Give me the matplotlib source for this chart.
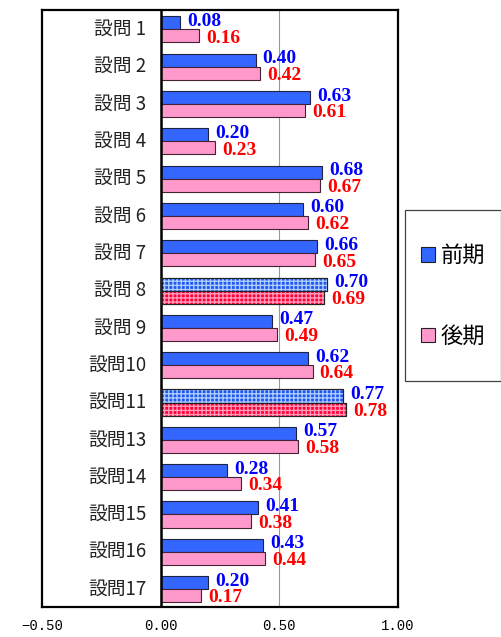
import matplotlib.pyplot as plt
from matplotlib.patches import Patch, Rectangle

labels = ["設問 1", "設問 2", "設問 3", "設問 4", "設問 5", "設問 6", "設問 7", "設問 8",
          "設問 9", "設問10", "設問11", "設問13", "設問14", "設問15", "設問16", "設問17"]
zenki = [0.08, 0.40, 0.63, 0.20, 0.68, 0.60, 0.66, 0.70, 0.47, 0.62, 0.77, 0.57, 0.28, 0.41, 0.43, 0.20]
kouki = [0.16, 0.42, 0.61, 0.23, 0.67, 0.62, 0.65, 0.69, 0.49, 0.64, 0.78, 0.58, 0.34, 0.38, 0.44, 0.17]
highlight = [7, 10]  # 設問8, 設問11
xticks = [-0.5, 0.0, 0.5, 1.0]

blue = '#3366FF'
pink = '#FF99CC'

fig = plt.figure(figsize=(5.01, 6.37), dpi=100)
ax = fig.add_axes([42 / 501, 1 - 607 / 637, 356 / 501, 597 / 637])

y = list(range(len(labels)))
h = 0.35
yb = [v - h / 2 for v in y]
yp = [v + h / 2 for v in y]

for i in range(len(labels)):
    if i in highlight:
        ax.barh(yb[i], zenki[i], height=h, color='#2255EE', edgecolor='#222222', linewidth=0.8, zorder=3)
        ax.barh(yb[i], zenki[i], height=h, color='none', edgecolor='#AACCFF', hatch='++++', linewidth=0, zorder=4)
        ax.barh(yb[i], zenki[i], height=h, color='none', edgecolor='#222222', linewidth=0.8, zorder=5)
        ax.barh(yp[i], kouki[i], height=h, color='#FF0033', edgecolor='#222222', linewidth=0.8, zorder=3)
        ax.barh(yp[i], kouki[i], height=h, color='none', edgecolor='#FF99BB', hatch='++++', linewidth=0, zorder=4)
        ax.barh(yp[i], kouki[i], height=h, color='none', edgecolor='#222222', linewidth=0.8, zorder=5)
    else:
        ax.barh(yb[i], zenki[i], height=h, color=blue, edgecolor='#222244', linewidth=0.8, zorder=3)
        ax.barh(yp[i], kouki[i], height=h, color=pink, edgecolor='#442233', linewidth=0.8, zorder=3)

    ax.text(zenki[i] + 0.03, yb[i] - 0.04, f"{zenki[i]:.2f}", color='#0000FF', fontsize=14,
            fontweight='bold', family='Liberation Serif', va='center', ha='left', zorder=6)
    ax.text(kouki[i] + 0.03, yp[i] + 0.06, f"{kouki[i]:.2f}", color='#FF0000', fontsize=14,
            fontweight='bold', family='Liberation Serif', va='center', ha='left', zorder=6)
    ax.text(-0.06, y[i], labels[i], fontsize=13.5, family=['Noto Sans CJK JP'], ha='right', va='center',
            color='#222222')

ax.set_xlim(-0.5, 1.0)
ax.set_ylim(15.48, -0.52)
ax.axvline(0, color='black', linewidth=1.8, zorder=4)
ax.axvline(0.5, color='#999999', linewidth=0.8, zorder=1)
ax.set_yticks([])
ax.set_xticks(xticks)
ax.set_xticklabels([f"{t:.2f}".replace('-', '−') for t in xticks], family='Liberation Mono', fontsize=10)
ax.tick_params(axis='x', length=0, pad=9)
for s in ax.spines.values():
    s.set_linewidth(1.6)
    s.set_color('black')

# legend box drawn separately so it can match the reference size
fig.patches.append(Rectangle((405 / 501, 1 - 381 / 637), 96 / 501, 171 / 637, transform=fig.transFigure,
                             facecolor='white', edgecolor='#444444', linewidth=0.9))
handles = [Patch(facecolor=blue, edgecolor='#222222', linewidth=0.8, label='前期'),
           Patch(facecolor=pink, edgecolor='#222222', linewidth=0.8, label='後期')]
leg = fig.legend(handles=handles, loc='center', bbox_to_anchor=(453 / 501, 1 - 296 / 637),
                 prop={'family': 'Noto Sans CJK JP', 'size': 16}, frameon=False,
                 labelspacing=2.6, borderpad=0, handlelength=0.65,
                 handleheight=0.65, handletextpad=0.25, borderaxespad=0)

fig.savefig('out.png', dpi=100)
